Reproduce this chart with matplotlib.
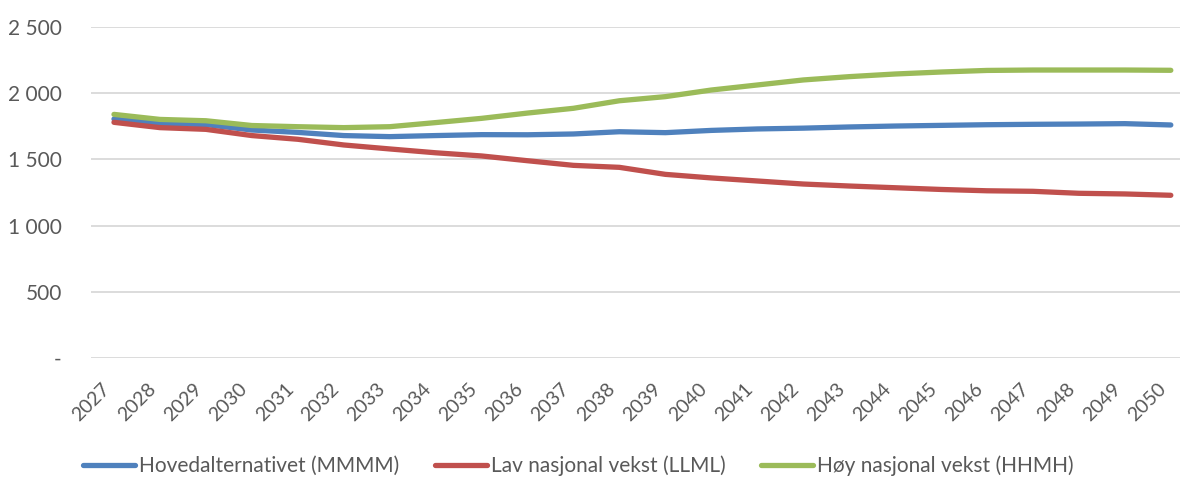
import matplotlib.pyplot as plt
from matplotlib.ticker import FuncFormatter, MultipleLocator
from matplotlib.transforms import ScaledTranslation

years = list(range(2027, 2051))

# Hovedalternativet (MMMM)
hoved = [1805, 1770, 1763, 1722, 1704, 1680, 1672, 1680, 1687, 1686, 1692, 1709, 1702, 1719,
         1730, 1736, 1745, 1752, 1757, 1762, 1765, 1767, 1770, 1760]
# Lav nasjonal vekst (LLML)
lav = [1780, 1740, 1727, 1680, 1652, 1609, 1579, 1550, 1526, 1490, 1455, 1440, 1387, 1360,
       1337, 1314, 1299, 1286, 1273, 1263, 1259, 1244, 1239, 1229]
# Høy nasjonal vekst (HHMH)
hoy = [1840, 1802, 1792, 1756, 1747, 1740, 1747, 1778, 1810, 1850, 1886, 1943, 1974, 2024,
       2062, 2100, 2125, 2145, 2160, 2172, 2175, 2175, 2175, 2173]

labels = ["Hovedalternativet (MMMM)", "Lav nasjonal vekst (LLML)", "Høy nasjonal vekst (HHMH)"]
colors = ["#4F81BD", "#C0504D", "#9BBB59"]

plt.rcParams['font.family'] = ['Lato', 'DejaVu Sans']
txt = "#595959"

fig = plt.figure(figsize=(11.8, 4.78), dpi=100)
ax = fig.add_axes([91 / 1180, 1 - 358 / 478, 1 - 91 / 1180, (358 - 27) / 478])

for series, lab, col in zip([hoved, lav, hoy], labels, colors):
    ax.plot(years, series, color=col, lw=3.8, label=lab, solid_capstyle='round')

ax.set_ylim(0, 2500)
ax.set_xlim(2026.5, 2050.2)
ax.yaxis.set_major_locator(MultipleLocator(500))
ax.yaxis.set_major_formatter(FuncFormatter(
    lambda v, p: "-" if v == 0 else f"{int(v):,}".replace(",", " ")))
ax.set_xticks(years)
ax.set_xticklabels([str(y) for y in years], rotation=45, ha='right', rotation_mode='anchor')

ax.grid(axis='y', color='#D9D9D9', lw=1.3)
ax.set_axisbelow(True)
for s in ax.spines.values():
    s.set_visible(False)
ax.tick_params(axis='both', length=0, colors=txt)
ax.tick_params(axis='y', pad=21, labelsize=15)
ax.tick_params(axis='x', pad=16, labelsize=14)

# nudge the rotated year labels to the left
shift = ScaledTranslation(-13 / 100, 0, fig.dpi_scale_trans)
for lbl in ax.get_xticklabels():
    lbl.set_transform(lbl.get_transform() + shift)

fig.legend(loc='lower center', ncol=3, frameon=False, fontsize=15, labelcolor=txt,
           handlelength=2.5, handletextpad=0.2, columnspacing=1.7,
           bbox_to_anchor=(0.49, -0.035))

fig.savefig("out.png", dpi=100)
